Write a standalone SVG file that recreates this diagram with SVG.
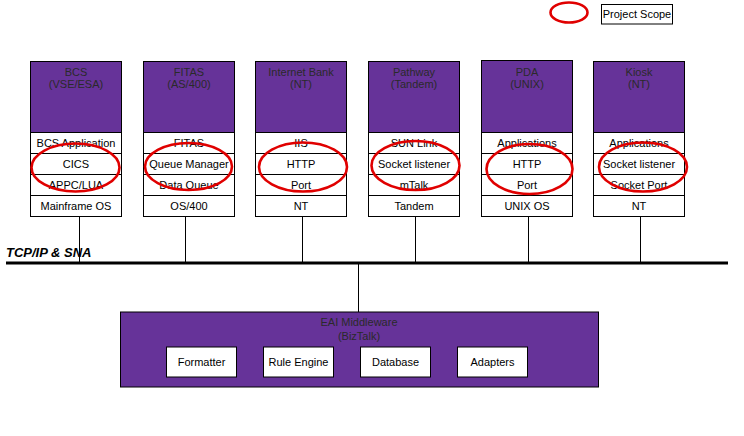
<svg xmlns="http://www.w3.org/2000/svg" width="744" height="436" viewBox="0 0 744 436">
<style>
text{font-family:"Liberation Sans",Arial,sans-serif;font-size:11px;text-anchor:middle;fill:#000}
.hd{fill:#663399;stroke:#000;stroke-width:1}
.ht{fill:#2a2a2a}
.row{fill:#fff;stroke:#000;stroke-width:1}
.scope{fill:none;stroke:#e00000;stroke-width:2.6}
.ln{stroke:#000;stroke-width:1;fill:none}
.bus{stroke:#000;stroke-width:3.2;fill:none}
</style>
<rect width="744" height="436" fill="#fff"/>

<g id="legend">
<ellipse class="scope" cx="569" cy="12.5" rx="18.5" ry="10"/>
<rect class="row" x="601.5" y="4.5" width="71" height="19.5"/>
<text x="637" y="18">Project Scope</text>
</g>

<g id="connectors">
<line class="ln" x1="79.5" y1="216" x2="79.5" y2="262"/>
<line class="ln" x1="185.5" y1="216" x2="185.5" y2="262"/>
<line class="ln" x1="302.5" y1="216" x2="302.5" y2="262"/>
<line class="ln" x1="415.5" y1="216" x2="415.5" y2="262"/>
<line class="ln" x1="528.5" y1="216" x2="528.5" y2="262"/>
<line class="ln" x1="640.5" y1="216" x2="640.5" y2="262"/>
<line class="ln" x1="358.5" y1="263" x2="358.5" y2="312"/>
<line class="bus" x1="6" y1="263" x2="728" y2="263"/>
<text x="6" y="257" style="text-anchor:start;font-size:13px;font-weight:bold;font-style:italic">TCP/IP &amp; SNA</text>
</g>

<g id="bcs">
<rect class="hd" x="30.5" y="61.5" width="91" height="71"/>
<text class="ht" x="76" y="75.5">BCS</text>
<text class="ht" x="76" y="88">(VSE/ESA)</text>
<rect class="row" x="30.5" y="132.5" width="91" height="21"/>
<rect class="row" x="30.5" y="153.5" width="91" height="21"/>
<rect class="row" x="30.5" y="174.5" width="91" height="21"/>
<rect class="row" x="30.5" y="195.5" width="91" height="21"/>
<text x="76" y="146.5">BCS Application</text>
<text x="76" y="167.5">CICS</text>
<text x="76" y="188.5">APPC/LUA</text>
<text x="76" y="209.5">Mainframe OS</text>
<ellipse class="scope" cx="75.5" cy="167.5" rx="44" ry="24"/>
</g>

<g id="fitas">
<rect class="hd" x="143.5" y="61.5" width="91" height="71"/>
<text class="ht" x="189" y="75.5">FITAS</text>
<text class="ht" x="189" y="88">(AS/400)</text>
<rect class="row" x="143.5" y="132.5" width="91" height="21"/>
<rect class="row" x="143.5" y="153.5" width="91" height="21"/>
<rect class="row" x="143.5" y="174.5" width="91" height="21"/>
<rect class="row" x="143.5" y="195.5" width="91" height="21"/>
<text x="189" y="146.5">FITAS</text>
<text x="189" y="167.5">Queue Manager</text>
<text x="189" y="188.5">Data Queue</text>
<text x="189" y="209.5">OS/400</text>
<ellipse class="scope" cx="188.5" cy="166.5" rx="43.5" ry="23.5"/>
</g>

<g id="internet-bank">
<rect class="hd" x="255.5" y="61.5" width="91" height="71"/>
<text class="ht" x="301" y="75.5">Internet Bank</text>
<text class="ht" x="301" y="88">(NT)</text>
<rect class="row" x="255.5" y="132.5" width="91" height="21"/>
<rect class="row" x="255.5" y="153.5" width="91" height="21"/>
<rect class="row" x="255.5" y="174.5" width="91" height="21"/>
<rect class="row" x="255.5" y="195.5" width="91" height="21"/>
<text x="301" y="146.5">IIS</text>
<text x="301" y="167.5">HTTP</text>
<text x="301" y="188.5">Port</text>
<text x="301" y="209.5">NT</text>
<ellipse class="scope" cx="303" cy="167" rx="44" ry="24.5"/>
</g>

<g id="pathway">
<rect class="hd" x="368.5" y="61.5" width="91" height="71"/>
<text class="ht" x="414" y="75.5">Pathway</text>
<text class="ht" x="414" y="88">(Tandem)</text>
<rect class="row" x="368.5" y="132.5" width="91" height="21"/>
<rect class="row" x="368.5" y="153.5" width="91" height="21"/>
<rect class="row" x="368.5" y="174.5" width="91" height="21"/>
<rect class="row" x="368.5" y="195.5" width="91" height="21"/>
<text x="414" y="146.5">SUN Link</text>
<text x="414" y="167.5">Socket listener</text>
<text x="414" y="188.5">mTalk</text>
<text x="414" y="209.5">Tandem</text>
<ellipse class="scope" cx="415.5" cy="165.5" rx="44" ry="24.5"/>
</g>

<g id="pda">
<rect class="hd" x="481.5" y="60.5" width="91" height="72"/>
<text class="ht" x="527" y="75.5">PDA</text>
<text class="ht" x="527" y="88">(UNIX)</text>
<rect class="row" x="481.5" y="132.5" width="91" height="21"/>
<rect class="row" x="481.5" y="153.5" width="91" height="21"/>
<rect class="row" x="481.5" y="174.5" width="91" height="21"/>
<rect class="row" x="481.5" y="195.5" width="91" height="21"/>
<text x="527" y="146.5">Applications</text>
<text x="527" y="167.5">HTTP</text>
<text x="527" y="188.5">Port</text>
<text x="527" y="209.5">UNIX OS</text>
<ellipse class="scope" cx="529.5" cy="169" rx="43" ry="25"/>
</g>

<g id="kiosk">
<rect class="hd" x="593.5" y="61.5" width="91" height="71"/>
<text class="ht" x="639" y="75.5">Kiosk</text>
<text class="ht" x="639" y="88">(NT)</text>
<rect class="row" x="593.5" y="132.5" width="91" height="21"/>
<rect class="row" x="593.5" y="153.5" width="91" height="21"/>
<rect class="row" x="593.5" y="174.5" width="91" height="21"/>
<rect class="row" x="593.5" y="195.5" width="91" height="21"/>
<text x="639" y="146.5">Applications</text>
<text x="639" y="167.5">Socket listener</text>
<text x="639" y="188.5">Socket Port</text>
<text x="639" y="209.5">NT</text>
<ellipse class="scope" cx="643" cy="167" rx="44" ry="24.5"/>
</g>

<g id="eai-middleware">
<rect class="hd" x="120.5" y="312" width="478" height="75"/>
<text class="ht" x="359" y="326">EAI Middleware</text>
<text class="ht" x="359" y="339.5">(BizTalk)</text>
<rect class="row" x="166.5" y="347" width="70" height="30"/>
<rect class="row" x="263.5" y="347" width="70" height="30"/>
<rect class="row" x="360.5" y="347" width="70" height="30"/>
<rect class="row" x="457.5" y="347" width="70" height="30"/>
<text x="201.5" y="366">Formatter</text>
<text x="298.5" y="366">Rule Engine</text>
<text x="395.5" y="366">Database</text>
<text x="492.5" y="366">Adapters</text>
</g>
</svg>
